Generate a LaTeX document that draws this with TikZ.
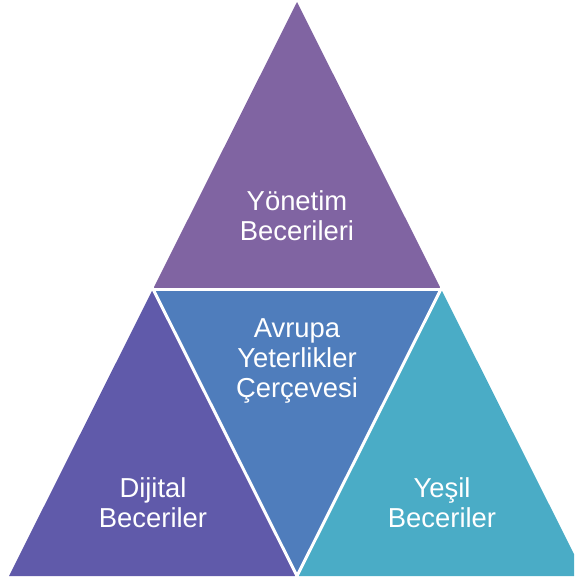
\documentclass[tikz,border=0pt]{standalone}
\usepackage{fontspec}
\setmainfont{Liberation Sans}
\definecolor{topviolet}{RGB}{128,100,162}
\definecolor{midblue}{RGB}{79,125,188}
\definecolor{leftindigo}{RGB}{96,90,170}
\definecolor{rightteal}{RGB}{74,172,198}
\begin{document}
\begin{tikzpicture}[x=1pt,y=-1pt,
  seam/.style={draw=white,line width=3pt,line cap=rect},
  label/.style={text=white,align=center,anchor=base,inner sep=0pt,
    font=\fontsize{27.4}{30}\selectfont}]
  \useasboundingbox (0,0) rectangle (574,579);
  % corner and edge-midpoint coordinates of the large triangle
  \coordinate (apex) at (297,2);
  \coordinate (bl) at (9,576);
  \coordinate (br) at (585,576);
  \coordinate (ml) at (153,289);
  \coordinate (mr) at (441,289);
  \coordinate (mb) at (297,576);
  \begin{scope}
    \clip (0,0) rectangle (574,579);
    \fill[topviolet] (apex) -- (mr) -- (ml) -- cycle;
    \fill[midblue] (ml) -- (mr) -- (mb) -- cycle;
    \fill[leftindigo] (ml) -- (mb) -- (bl) -- cycle;
    \fill[rightteal] (mr) -- (br) -- (mb) -- cycle;
    % white seams between the four facets
    \draw[seam] (ml) -- (mr);
    \draw[seam] (ml) -- (mb);
    \draw[seam] (mr) -- (mb);
  \end{scope}
  % the base anchor sits on the baseline of the last line
  \node[label] (mgmt) at (297,240) {Yönetim\\Becerileri};
  \node[label] (eu) at (297,397) {Avrupa\\Yeterlikler\\Çerçevesi};
  \node[label] (digital) at (153,527) {Dijital\\Beceriler};
  \node[label] (green) at (442,527) {Yeşil\\Beceriler};
\end{tikzpicture}
\end{document}
